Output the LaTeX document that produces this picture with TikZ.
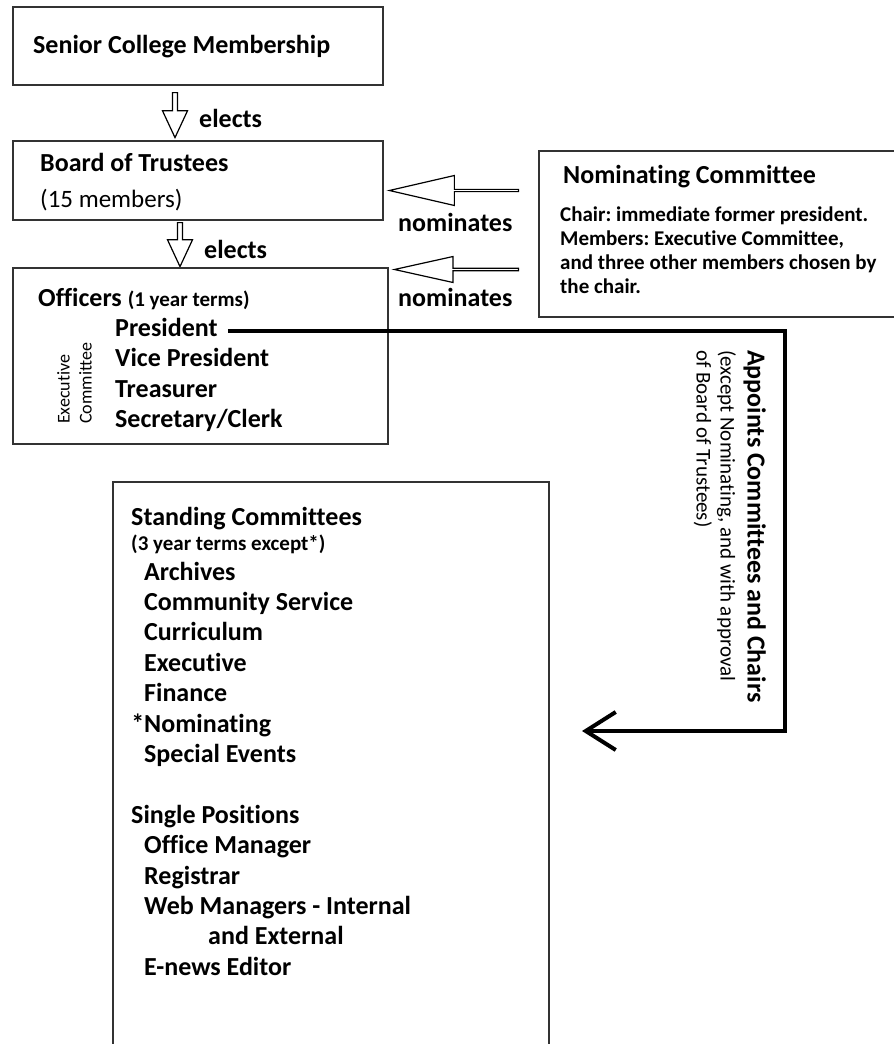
\documentclass[tikz,border=0pt]{standalone}
\usepackage{fontspec}
\setmainfont{Carlito}[Ligatures=NoCommon]
\frenchspacing
\usepackage{tikz}
\usetikzlibrary{positioning}
\usetikzlibrary{shapes.arrows,arrows.meta}
\tikzset{
    frame/.style={
           rectangle,
           draw=black!80, line width=1.6pt,
           anchor=north west,
           inner sep=0pt,
           },
    bigtext/.style={
           font=\fontsize{26}{30.4}\selectfont\bfseries,
           anchor=base west,
           inner sep=0pt,
           },
    smalltext/.style={
           font=\fontsize{21}{24}\selectfont\bfseries,
           anchor=base west,
           inner sep=0pt,
           },
    blockarrow/.style={
           single arrow,
           draw=black, line width=1.2pt,
           anchor=tail,
           inner sep=0pt,
           },
}

\begin{document}
\begin{tikzpicture}
[
x=1pt,y=-1pt,
appoint/.style={draw=black, line width=4pt, -{Straight Barb[length=30pt,width=38pt]}}
]
 \useasboundingbox (0,0) rectangle (894,1044);

 % MEMBERSHIP
 \node[frame, minimum width=370pt, minimum height=78pt] (MEMBERS) at (12,6) {};
 \node[bigtext] (MEMBERSTXT) at (33,53) {Senior College Membership};

 % elects the board
 \node[blockarrow, shape border rotate=270,
 minimum height=45pt, minimum width=25pt,
 single arrow head extend=2.5pt, single arrow tip angle=50] (ELECT1) at (175,92) {};
 \node[bigtext] (ELECT1TXT) at (199,127) {elects};

 % BOARD
 \node[frame, minimum width=370pt, minimum height=79pt] (BOARD) at (12,140) {};
 \node[bigtext] (BOARDTXT) at (40,171) {Board of Trustees};
 \node[bigtext, font=\fontsize{25}{30}\selectfont] (BOARDNUM) at (40,207) {(15 members)};

 % elects the officers
 \node[blockarrow, shape border rotate=270,
 minimum height=44pt, minimum width=25pt,
 single arrow head extend=2.5pt, single arrow tip angle=50] (ELECT2) at (180,222) {};
 \node[bigtext] (ELECT2TXT) at (204,258) {elects};

 % OFFICERS
 \node[frame, minimum width=375pt, minimum height=176pt] (OFFICERS) at (12,267) {};
 \node[bigtext] (OFFTXT) at (38,306) {Officers {\fontsize{21}{24}\selectfont(1 year terms)}};
 \node[bigtext] (PRES) at (115,336) {President};
 \node[bigtext] (VICE) at (115,366) {Vice President};
 \node[bigtext] (TREAS) at (115,397) {Treasurer};
 \node[bigtext] (SEC) at (115,427) {Secretary/Clerk};
 \node[rotate=90, anchor=north west, align=left, inner sep=0pt,
 font=\fontsize{18}{22}\selectfont] (EXEC) at (57,424) {Executive\\Committee};

 % NOMINATING COMMITTEE
 \node[frame, minimum width=370pt, minimum height=166pt] (NOMCOM) at (538,150) {};
 \node[bigtext] (NOMTXT) at (563,183) {Nominating Committee};
 \node[smalltext] (NOMBODY) at (560,221)
 {%
 \begin{tabular}[t]{@{}l@{}}
  Chair: immediate former president.\\
  Members: Executive Committee,\\
  and three other members chosen by\\
  the chair.
 \end{tabular}
 };

 % nominates
 \node[blockarrow, shape border rotate=180,
 minimum height=129pt, minimum width=30pt,
 single arrow head extend=7.5pt, single arrow tip angle=26] (NOM1) at (519,190.5) {};
 \node[bigtext] (NOM1TXT) at (398,231) {nominates};
 \node[blockarrow, shape border rotate=180,
 minimum height=124pt, minimum width=26pt,
 single arrow head extend=5.5pt, single arrow tip angle=25] (NOM2) at (519,269.5) {};
 \node[bigtext] (NOM2TXT) at (398,306) {nominates};

 % STANDING COMMITTEES
 \node[frame, minimum width=436pt, minimum height=600pt] (STANDING) at (112,481) {};
 \node[bigtext] (STANDTXT) at (131,525) {Standing Committees};
 \node[smalltext] (STANDTERM) at (131,550) {(3 year terms except*)};
 \node[bigtext] (STANDLIST) at (144,580)
 {%
 \begin{tabular}[t]{@{}l@{}}
  Archives\\
  Community Service\\
  Curriculum\\
  Executive\\
  Finance\\
  \llap{*}Nominating\\
  Special Events\\
  \\
  \hspace*{-13pt}Single Positions\\
  Office Manager\\
  Registrar\\
  Web Managers - Internal\\
  \hspace*{64pt}and External\\
  E-news Editor
 \end{tabular}
 };

 % president appoints
 \node[rotate=-90, anchor=north west, align=left, inner sep=0pt,
 font=\fontsize{21}{24}\selectfont] (APPTXT) at (766,350)
 {\textbf{\fontsize{26}{27}\selectfont Appoints Committees and Chairs}\\[3pt]
 (except Nominating, and with approval\\of Board of Trustees)};

 \coordinate (PRESEND) at ([xshift=10pt,yshift=5pt]PRES.base east);
 \coordinate (TURN) at (785,331);
 \coordinate (APPTIP) at (582,731);
 \draw[appoint] (PRESEND) -- (PRESEND -| TURN) |- (APPTIP);

\end{tikzpicture}
\end{document}
